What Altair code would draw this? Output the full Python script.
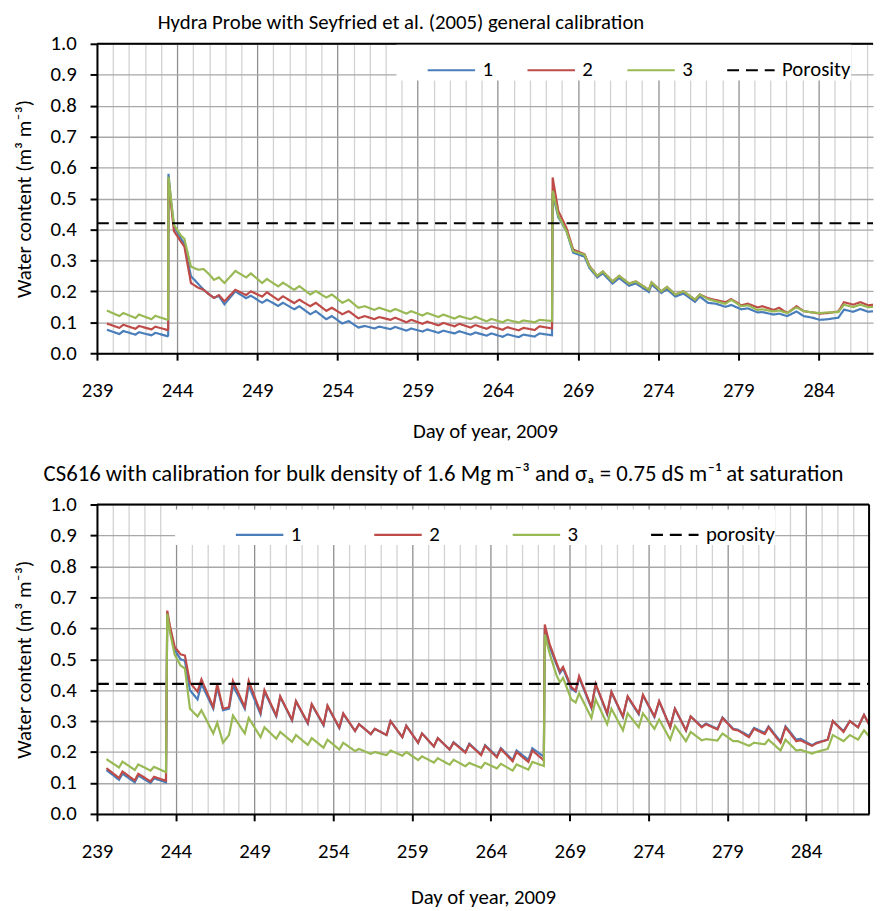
import altair as alt
import pandas as pd

FONT = "Carlito, Lato, 'Open Sans', sans-serif"
SERIES = ["1", "2", "3"]
POROSITY = 0.42

# ---------------- Panel A: Hydra Probe (Seyfried et al. 2005) ----------------
hp_day = [239.62, 240.40, 240.64, 241.40, 241.62, 242.40, 242.64, 243.40, 243.44,
          243.46, 243.60, 243.80, 244.24, 244.45, 244.86, 245.30, 245.65, 246.00,
          246.30, 246.60, 246.95, 247.63, 248.30, 248.60, 249.30, 249.60, 250.30,
          250.60, 251.30, 251.62, 252.30, 252.65, 253.30, 253.65, 254.30, 254.70,
          255.30, 255.70, 256.30, 256.60, 257.30, 257.60, 258.30, 258.60, 259.30,
          259.60, 260.30, 260.60, 261.30, 261.60, 262.30, 262.60, 263.30, 263.60,
          264.30, 264.60, 265.30, 265.60, 266.30, 266.60, 267.38, 267.42, 267.77,
          268.28, 268.70, 269.41, 269.72, 270.20, 270.55, 271.16, 271.57, 272.19,
          272.60, 273.42, 273.59, 274.20, 274.55, 275.07, 275.58, 276.30, 276.60,
          277.10, 277.60, 278.20, 278.56, 279.18, 279.60, 280.20, 280.50, 281.20,
          281.54, 282.05, 282.63, 283.08, 283.60, 284.10, 284.60, 285.24, 285.59,
          286.16, 286.61, 287.10, 287.45, 288.00]
hp_1 = [0.076, 0.062, 0.072, 0.060, 0.068, 0.058, 0.066, 0.055, 0.057,
        0.580, 0.500, 0.410, 0.370, 0.355, 0.249, 0.225, 0.205, 0.190,
        0.179, 0.185, 0.158, 0.200, 0.178, 0.186, 0.163, 0.173, 0.153,
        0.163, 0.142, 0.152, 0.126, 0.136, 0.110, 0.120, 0.096, 0.104,
        0.083, 0.088, 0.080, 0.086, 0.078, 0.085, 0.073, 0.080, 0.070,
        0.077, 0.066, 0.073, 0.064, 0.071, 0.060, 0.067, 0.057, 0.064,
        0.053, 0.061, 0.052, 0.060, 0.054, 0.064, 0.058, 0.515, 0.440,
        0.395, 0.325, 0.312, 0.275, 0.245, 0.258, 0.225, 0.243, 0.218,
        0.226, 0.198, 0.222, 0.195, 0.207, 0.183, 0.193, 0.166, 0.183,
        0.163, 0.160, 0.150, 0.156, 0.142, 0.145, 0.132, 0.133, 0.125,
        0.128, 0.120, 0.135, 0.120, 0.115, 0.108, 0.110, 0.115, 0.141,
        0.134, 0.143, 0.134, 0.136, 0.136]
hp_2 = [0.096, 0.082, 0.092, 0.079, 0.088, 0.077, 0.086, 0.075, 0.077,
        0.560, 0.490, 0.395, 0.360, 0.345, 0.227, 0.212, 0.205, 0.190,
        0.179, 0.188, 0.168, 0.205, 0.188, 0.200, 0.183, 0.197, 0.172,
        0.184, 0.162, 0.173, 0.152, 0.163, 0.137, 0.147, 0.126, 0.136,
        0.113, 0.120, 0.110, 0.117, 0.108, 0.115, 0.100, 0.108, 0.095,
        0.102, 0.090, 0.098, 0.087, 0.095, 0.083, 0.091, 0.079, 0.087,
        0.076, 0.084, 0.074, 0.082, 0.075, 0.087, 0.080, 0.568, 0.460,
        0.405, 0.335, 0.320, 0.282, 0.250, 0.264, 0.232, 0.250, 0.225,
        0.232, 0.205, 0.229, 0.200, 0.214, 0.190, 0.200, 0.173, 0.190,
        0.178, 0.172, 0.165, 0.175, 0.155, 0.160, 0.148, 0.152, 0.140,
        0.147, 0.130, 0.152, 0.136, 0.132, 0.128, 0.130, 0.135, 0.165,
        0.157, 0.165, 0.155, 0.157, 0.157]
hp_3 = [0.138, 0.120, 0.130, 0.114, 0.125, 0.110, 0.121, 0.108, 0.110,
        0.570, 0.505, 0.415, 0.380, 0.370, 0.280, 0.270, 0.272, 0.255,
        0.237, 0.245, 0.227, 0.266, 0.245, 0.258, 0.227, 0.240, 0.216,
        0.228, 0.205, 0.217, 0.190, 0.201, 0.180, 0.190, 0.163, 0.173,
        0.147, 0.152, 0.140, 0.147, 0.135, 0.143, 0.128, 0.136, 0.122,
        0.130, 0.117, 0.125, 0.112, 0.120, 0.110, 0.118, 0.103, 0.111,
        0.100, 0.108, 0.099, 0.106, 0.100, 0.108, 0.104, 0.525, 0.445,
        0.395, 0.330, 0.318, 0.280, 0.250, 0.264, 0.232, 0.250, 0.225,
        0.232, 0.205, 0.229, 0.200, 0.214, 0.190, 0.200, 0.173, 0.190,
        0.175, 0.168, 0.160, 0.173, 0.152, 0.155, 0.140, 0.142, 0.135,
        0.138, 0.130, 0.148, 0.136, 0.132, 0.130, 0.132, 0.133, 0.157,
        0.149, 0.157, 0.149, 0.150, 0.150]

# ---------------- Panel B: CS616 ----------------
cs_day = [239.60, 240.40, 240.62, 241.40, 241.62, 242.40, 242.62, 243.38, 243.46,
          243.62, 243.93, 244.30, 244.58, 244.90, 245.38, 245.63, 246.38, 246.63,
          247.00, 247.38, 247.63, 248.38, 248.63, 249.38, 249.63, 250.38, 250.63,
          251.38, 251.63, 252.38, 252.63, 253.38, 253.63, 254.38, 254.63, 255.38,
          255.63, 256.38, 256.63, 257.38, 257.63, 258.38, 258.63, 259.38, 259.63,
          260.38, 260.63, 261.38, 261.63, 262.38, 262.63, 263.38, 263.63, 264.38,
          264.63, 265.38, 265.63, 266.38, 266.63, 267.36, 267.42, 267.72, 268.15,
          268.38, 268.58, 269.10, 269.38, 269.60, 270.38, 270.65, 271.38, 271.65,
          272.38, 272.68, 273.38, 273.65, 274.38, 274.68, 275.38, 275.68, 276.38,
          276.68, 277.38, 277.65, 278.38, 278.70, 279.38, 279.68, 280.38, 280.70,
          281.38, 281.62, 282.38, 282.70, 283.38, 283.65, 284.38, 284.65, 285.38,
          285.70, 286.38, 286.78, 287.30, 287.68, 288.10]
cs_1 = [0.142, 0.110, 0.130, 0.102, 0.124, 0.100, 0.115, 0.102, 0.650,
        0.600, 0.530, 0.500, 0.495, 0.400, 0.370, 0.420, 0.340, 0.410,
        0.335, 0.340, 0.415, 0.340, 0.415, 0.322, 0.395, 0.315, 0.378,
        0.302, 0.363, 0.292, 0.353, 0.286, 0.348, 0.277, 0.323, 0.268,
        0.290, 0.258, 0.275, 0.255, 0.300, 0.248, 0.285, 0.230, 0.260,
        0.218, 0.245, 0.208, 0.232, 0.200, 0.227, 0.192, 0.222, 0.186,
        0.213, 0.174, 0.205, 0.175, 0.212, 0.185, 0.600, 0.540, 0.485,
        0.455, 0.470, 0.405, 0.395, 0.440, 0.342, 0.418, 0.322, 0.393,
        0.313, 0.378, 0.322, 0.383, 0.313, 0.363, 0.280, 0.340, 0.270,
        0.315, 0.282, 0.292, 0.275, 0.312, 0.275, 0.272, 0.252, 0.278,
        0.262, 0.283, 0.234, 0.283, 0.240, 0.243, 0.222, 0.230, 0.240,
        0.300, 0.268, 0.300, 0.280, 0.320, 0.280]
cs_2 = [0.148, 0.116, 0.137, 0.108, 0.130, 0.105, 0.120, 0.107, 0.657,
        0.610, 0.540, 0.516, 0.512, 0.424, 0.395, 0.435, 0.345, 0.420,
        0.340, 0.345, 0.430, 0.345, 0.430, 0.328, 0.400, 0.318, 0.380,
        0.304, 0.365, 0.294, 0.355, 0.288, 0.350, 0.279, 0.325, 0.268,
        0.290, 0.258, 0.275, 0.255, 0.300, 0.248, 0.285, 0.230, 0.260,
        0.218, 0.245, 0.208, 0.230, 0.198, 0.225, 0.190, 0.220, 0.183,
        0.210, 0.170, 0.200, 0.168, 0.205, 0.173, 0.612, 0.550, 0.490,
        0.460, 0.475, 0.410, 0.398, 0.445, 0.345, 0.420, 0.325, 0.395,
        0.315, 0.380, 0.325, 0.385, 0.315, 0.365, 0.280, 0.340, 0.270,
        0.315, 0.280, 0.290, 0.273, 0.310, 0.273, 0.270, 0.248, 0.275,
        0.258, 0.280, 0.230, 0.280, 0.235, 0.238, 0.220, 0.228, 0.240,
        0.300, 0.265, 0.300, 0.280, 0.320, 0.280]
cs_3 = [0.177, 0.150, 0.169, 0.142, 0.160, 0.140, 0.152, 0.135, 0.647,
        0.590, 0.515, 0.480, 0.470, 0.340, 0.315, 0.335, 0.260, 0.295,
        0.230, 0.255, 0.318, 0.260, 0.310, 0.248, 0.280, 0.243, 0.265,
        0.233, 0.255, 0.223, 0.245, 0.214, 0.240, 0.208, 0.230, 0.203,
        0.210, 0.194, 0.200, 0.190, 0.205, 0.188, 0.200, 0.174, 0.186,
        0.166, 0.180, 0.159, 0.175, 0.154, 0.165, 0.149, 0.165, 0.147,
        0.162, 0.140, 0.160, 0.143, 0.168, 0.155, 0.580, 0.520, 0.450,
        0.425, 0.440, 0.370, 0.360, 0.390, 0.310, 0.370, 0.290, 0.340,
        0.270, 0.325, 0.280, 0.325, 0.275, 0.305, 0.240, 0.285, 0.235,
        0.265, 0.238, 0.242, 0.237, 0.260, 0.235, 0.235, 0.220, 0.230,
        0.225, 0.240, 0.205, 0.240, 0.205, 0.207, 0.195, 0.200, 0.210,
        0.255, 0.235, 0.255, 0.240, 0.270, 0.245]

# axis ticks
x_days = list(range(239, 290))
y_ticks = [0.0, 0.1, 0.2, 0.3, 0.4, 0.5, 0.6, 0.7, 0.8, 0.9, 1.0]

COLORS = ["#4A7EBB", "#BE4B48", "#98B954", "#000000"]
X_TITLE = "Day of year, 2009"
Y_TITLE = "Water content (m³ m⁻³)"
FS = 21


def long_df(day, s1, s2, s3, por_label, x_end):
    rows = []
    for name, vals in zip(SERIES, [s1, s2, s3]):
        for d, v in zip(day, vals):
            rows.append({"day": d, "value": v, "series": name})
    rows.append({"day": 239, "value": POROSITY, "series": por_label})
    rows.append({"day": x_end, "value": POROSITY, "series": por_label})
    return pd.DataFrame(rows)


def panel(df, por_label, title, title_fs, title_dx, title_off, width, x_end, leg_x, leg_y,
          sym_off, col_pad, tail, right_border, x_title_pad):
    domain = SERIES + [por_label]
    leg = alt.Legend(
        title=None, orient="none", legendX=leg_x, legendY=leg_y,
        direction="horizontal", columns=4, symbolType="stroke",
        symbolSize=2304, symbolStrokeWidth=2.6, symbolOffset=sym_off,
        labelFontSize=FS, labelFont=FONT, labelColor="black", columnPadding=col_pad,
        fillColor="white", padding=0, labelOffset=6, labelLimit=400,
        labelExpr="datum.label == '%s' ? datum.label + '%s' : datum.label" % (por_label, tail),
    )
    xaxis = alt.Axis(
        values=x_days, format="d",
        labelExpr="datum.value % 5 == 4 ? datum.label : ''",
        labelOverlap=False, labelFlush=False,
        tickOpacity={"condition": {"test": "datum.value % 5 == 4", "value": 1}, "value": 0},
        gridColor={"condition": {"test": "datum.value % 5 == 4", "value": "#8f8f8f"}, "value": "#d2d2d2"},
        gridWidth=1.3, labelPadding=20, titlePadding=x_title_pad,
    )
    yaxis = alt.Axis(values=y_ticks, format=".1f", gridColor="#a8a8a8", gridWidth=1.3,
                     labelPadding=14, titlePadding=16)
    xs = alt.Scale(domain=[239, x_end], nice=False, zero=False)
    ys = alt.Scale(domain=[0, 1], nice=False)
    lines = alt.Chart(df).mark_line(clip=True).encode(
        x=alt.X("day:Q", scale=xs, axis=xaxis, title=X_TITLE),
        y=alt.Y("value:Q", scale=ys, axis=yaxis, title=Y_TITLE),
        color=alt.Color("series:N", scale=alt.Scale(domain=domain, range=COLORS),
                        sort=domain, legend=leg),
        strokeDash=alt.StrokeDash("series:N",
                                  scale=alt.Scale(domain=domain, range=[[1, 0], [1, 0], [1, 0], [12, 7]]),
                                  sort=domain, legend=leg),
        strokeWidth=alt.StrokeWidth("series:N",
                                    scale=alt.Scale(domain=domain, range=[2.2, 2.2, 2.2, 3.0]),
                                    legend=None),
    )
    top_border = alt.Chart(pd.DataFrame({"v": [1.0]})).mark_rule(
        color="black", strokeWidth=2).encode(
        y=alt.Y("v:Q", scale=ys, axis=yaxis, title=Y_TITLE))
    layers = [lines, top_border]
    if right_border:
        rb = alt.Chart(pd.DataFrame({"d": [x_end]})).mark_rule(
            color="black", strokeWidth=2).encode(
            x=alt.X("d:Q", scale=xs, axis=xaxis, title=X_TITLE))
        layers.append(rb)
    return alt.layer(*layers).properties(
        width=width, height=313,
        title=alt.TitleParams(title, font=FONT, fontSize=title_fs, fontWeight="normal",
                              color="black", anchor="middle", frame="group",
                              dx=title_dx, offset=title_off),
    )


top = panel(long_df(hp_day, hp_1, hp_2, hp_3, "Porosity", 288.0), "Porosity",
            "Hydra Probe with Seyfried et al. (2005) general calibration", 21,
            -85, 0, 785, 287.4, 303, 1, 30, 3, "\u2003\u2002", False, 20)
bottom = panel(long_df(cs_day, cs_1, cs_2, cs_3, "porosity", 288.0), "porosity",
               "CS616 with calibration for bulk density of 1.6 Mg m⁻³ and σₐ = 0.75 dS m⁻¹ at saturation", 23,
               -40, 8, 781, 288.0, 79, 5, 60, 12, "\u2003\u2003\u2003\u2003\u2003\u2003", True, 26)

chart = alt.vconcat(top, bottom, spacing=22).resolve_scale(
    color="independent", strokeDash="independent", strokeWidth="independent", x="independent"
).resolve_legend(
    color="independent", strokeDash="independent"
).properties(
    padding={"left": 5, "top": -1, "right": 0, "bottom": 0}
).configure_view(
    stroke=None
).configure_axis(
    labelFont=FONT, labelFontSize=FS, labelColor="black",
    titleFont=FONT, titleFontSize=FS, titleFontWeight="normal", titleColor="black",
    domainColor="black", domainWidth=2, tickColor="black", tickWidth=2, tickSize=7,
)

chart.save("out.html", embed_options={"renderer": "svg", "actions": False})
